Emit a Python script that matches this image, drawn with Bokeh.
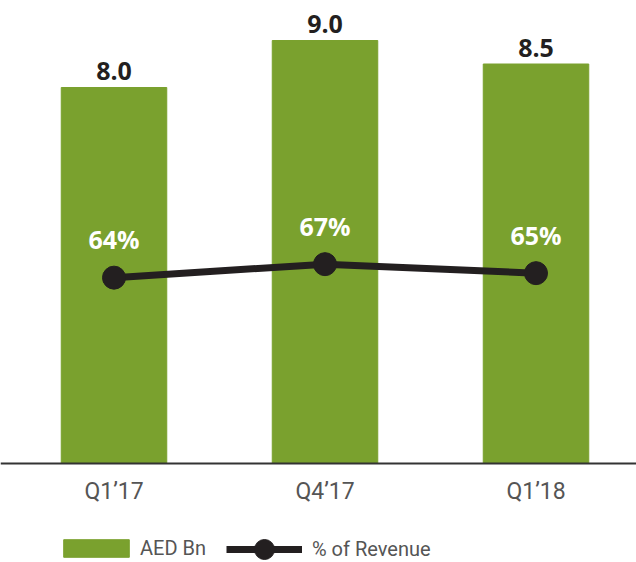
from bokeh.plotting import figure
from bokeh.models import Range1d, Legend, LegendItem, ColumnDataSource, Span
from bokeh.core.properties import value
from bokeh.embed import file_html
from bokeh.resources import INLINE

quarters = ["Q1’17", "Q4’17", "Q1’18"]
aed_bn = [8.0, 9.0, 8.5]
pct_revenue = [64, 67, 65]

GREEN = "#7aa12e"
DARK = "#231f20"

x = list(range(len(quarters)))
src = ColumnDataSource(dict(
    x=x, aed=aed_bn, pct=pct_revenue, zero=[0] * len(x), q=quarters,
    aed_lbl=[f"{v:.1f}" for v in aed_bn],
    pct_lbl=[f"{v}%" for v in pct_revenue],
))

W, H = 636, 562
BASE = 463          # pixel row of the baseline from the top
BELOW = H - BASE    # pixels under the baseline
PX_AED = 47.0       # pixels per AED Bn
PX_PCT = 4.5        # pixels per percent
PCT0 = 22.7         # percent value sitting on the baseline

p = figure(width=W, height=H, output_backend="svg", toolbar_location=None,
           x_range=Range1d(-113.5 / 211, -113.5 / 211 + W / 211),
           y_range=Range1d(-BELOW / PX_AED, BASE / PX_AED),
           x_axis_location=None, y_axis_location=None,
           min_border_left=0, min_border_right=0, min_border_top=0, min_border_bottom=0)
p.extra_y_ranges = {"pct": Range1d(PCT0 - BELOW / PX_PCT, PCT0 + BASE / PX_PCT)}
p.outline_line_color = None
p.xgrid.visible = False
p.ygrid.visible = False

bars = p.vbar(x="x", top="aed", bottom=0, width=0.5, color=GREEN, source=src)
p.add_layout(Span(location=0, dimension="width", line_color="#333333", line_width=2))
line = p.line("x", "pct", y_range_name="pct", line_width=7, line_color=DARK, source=src)
pts = p.scatter("x", "pct", y_range_name="pct", size=23, fill_color=DARK, line_color=DARK, source=src)

p.text("x", "aed", text="aed_lbl", source=src, text_align="center", text_baseline="alphabetic",
       y_offset=-16.5, text_font=value("Open Sans"), text_font_size="25px", text_font_style="bold",
       text_color=DARK)
p.text("x", "pct", text="pct_lbl", source=src, y_range_name="pct", text_align="center",
       text_baseline="alphabetic", y_offset=-38.5, text_font=value("Open Sans"),
       text_font_size="25px", text_font_style="bold", text_color="white")
p.text("x", "zero", text="q", source=src, text_align="center", text_baseline="alphabetic",
       y_offset=27.5, text_font=value("Roboto"), text_font_size="23px",
       text_color="#555555")

common = dict(orientation="horizontal", padding=0, margin=0, border_line_color=None,
              background_fill_alpha=0, label_text_font="Roboto", label_text_font_size="20px",
              label_text_color="#555555")
legend_bar = Legend(items=[LegendItem(label="AED Bn", renderers=[bars])],
                    location=(55, 2), glyph_width=82, glyph_height=22, label_standoff=3,
                    **common)
legend_line = Legend(items=[LegendItem(label="% of Revenue", renderers=[line, pts])],
                     location=(226, -12), glyph_width=76, glyph_height=50, label_standoff=10,
                     **common)
p.add_layout(legend_bar, "center")
p.add_layout(legend_line, "center")

open("out.html", "w").write(file_html(p, INLINE))
